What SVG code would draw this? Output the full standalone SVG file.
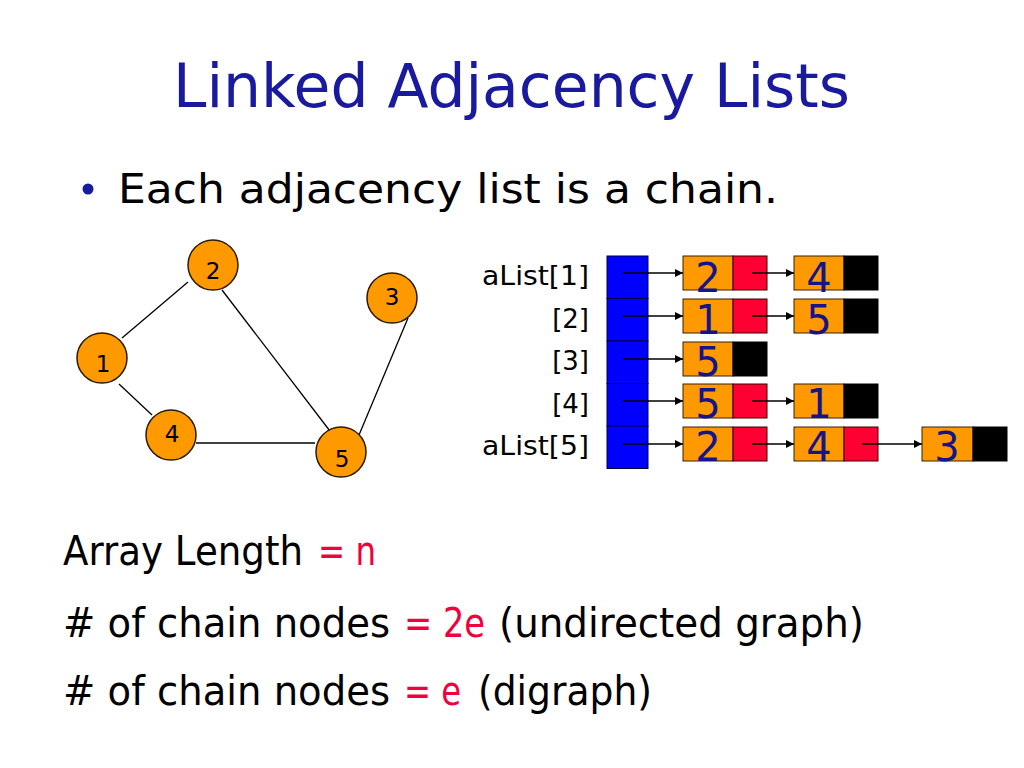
<svg xmlns="http://www.w3.org/2000/svg" width="1024" height="768" viewBox="0 0 1024 768">
<style>
.t{font-family:"DejaVu Sans","Liberation Sans",sans-serif;}
.title{fill:#1a1a9e;font-size:60px;}
.body{fill:#000;font-size:40px;}
.red{fill:#f0003c;}
.lbl{fill:#000;font-size:26px;text-anchor:end;}
.gn{fill:#ff9900;stroke:#2a1a00;stroke-width:1.5;}
.gl{fill:#000;font-size:23px;text-anchor:middle;}
.edge{stroke:#000;stroke-width:1.3;fill:none;}
.arr{stroke:#000;stroke-width:1.3;fill:none;marker-end:url(#ah);}
.cell{fill:#0000ff;stroke:#000044;stroke-width:1;}
.o{fill:#ff9900;stroke:#3a2000;stroke-width:1;}
.r{fill:#ff0033;stroke:#3a0000;stroke-width:1;}
.k{fill:#000;stroke:#000;stroke-width:1;}
.d{fill:#14148c;font-size:40px;text-anchor:middle;}
</style>
<defs>
<marker id="ah" viewBox="0 0 10 10" refX="10" refY="5" markerWidth="8" markerHeight="8" markerUnits="userSpaceOnUse" orient="auto">
<path d="M0,0 L10,5 L0,10 z" fill="#000"/>
</marker>
</defs>
<rect width="1024" height="768" fill="#fff"/>

<text class="t title" x="173" y="107" textLength="677" lengthAdjust="spacingAndGlyphs">Linked Adjacency Lists</text>

<circle cx="88" cy="189" r="5.5" fill="#1a1a9e"/>
<text class="t body" x="118" y="203" font-size="45" textLength="660" lengthAdjust="spacingAndGlyphs">Each adjacency list is a chain.</text>

<g id="graph-edges">
<line class="edge" x1="122" y1="338" x2="188" y2="282"/>
<line class="edge" x1="222" y1="290" x2="333" y2="435"/>
<line class="edge" x1="408" y1="318" x2="359" y2="435"/>
<line class="edge" x1="119" y1="384" x2="152" y2="415"/>
<line class="edge" x1="196" y1="443" x2="315" y2="443"/>
</g>
<g id="gnode1"><circle class="gn" cx="102" cy="358" r="25"/><text class="t gl" x="103" y="372">1</text></g>
<g id="gnode2"><circle class="gn" cx="213" cy="265" r="25"/><text class="t gl" x="213" y="279">2</text></g>
<g id="gnode3"><circle class="gn" cx="392" cy="298" r="25"/><text class="t gl" x="392" y="305">3</text></g>
<g id="gnode4"><circle class="gn" cx="171" cy="435" r="25"/><text class="t gl" x="172" y="442">4</text></g>
<g id="gnode5"><circle class="gn" cx="341" cy="452" r="25"/><text class="t gl" x="342" y="467">5</text></g>

<g id="labels">
<text class="t lbl" x="589" y="285" textLength="107" lengthAdjust="spacingAndGlyphs">aList[1]</text>
<text class="t lbl" x="589" y="327.5">[2]</text>
<text class="t lbl" x="589" y="370">[3]</text>
<text class="t lbl" x="589" y="412.5">[4]</text>
<text class="t lbl" x="589" y="455" textLength="107" lengthAdjust="spacingAndGlyphs">aList[5]</text>
</g>

<g id="array">
<rect class="cell" x="607" y="256" width="41" height="42.5"/>
<rect class="cell" x="607" y="298.5" width="41" height="42.5"/>
<rect class="cell" x="607" y="341" width="41" height="42.5"/>
<rect class="cell" x="607" y="383.5" width="41" height="42.5"/>
<rect class="cell" x="607" y="426" width="41" height="42.5"/>
</g>

<g id="row1">
<rect class="o" x="683" y="256" width="50" height="34"/><rect class="r" x="733" y="256" width="34" height="34"/>
<text class="t d" x="708" y="292">2</text>
<rect class="o" x="794" y="256" width="50" height="34"/><rect class="k" x="844" y="256" width="34" height="34"/>
<text class="t d" x="819" y="292">4</text>
</g>
<g id="row2">
<rect class="o" x="683" y="299" width="50" height="34"/><rect class="r" x="733" y="299" width="34" height="34"/>
<text class="t d" x="708" y="334">1</text>
<rect class="o" x="794" y="299" width="50" height="34"/><rect class="k" x="844" y="299" width="34" height="34"/>
<text class="t d" x="819" y="334">5</text>
</g>
<g id="row3">
<rect class="o" x="683" y="342" width="50" height="34"/><rect class="k" x="733" y="342" width="34" height="34"/>
<text class="t d" x="708" y="376">5</text>
</g>
<g id="row4">
<rect class="o" x="683" y="384" width="50" height="34"/><rect class="r" x="733" y="384" width="34" height="34"/>
<text class="t d" x="708" y="418">5</text>
<rect class="o" x="794" y="384" width="50" height="34"/><rect class="k" x="844" y="384" width="34" height="34"/>
<text class="t d" x="819" y="418">1</text>
</g>
<g id="row5">
<rect class="o" x="683" y="427" width="50" height="34"/><rect class="r" x="733" y="427" width="34" height="34"/>
<text class="t d" x="708" y="461">2</text>
<rect class="o" x="794" y="427" width="50" height="34"/><rect class="r" x="844" y="427" width="34" height="34"/>
<text class="t d" x="819" y="461">4</text>
<rect class="o" x="922" y="427" width="51" height="34"/><rect class="k" x="973" y="427" width="34" height="34"/>
<text class="t d" x="947" y="461">3</text>
</g>

<g id="connectors">
<line class="arr" x1="623" y1="273" x2="683" y2="273"/>
<line class="arr" x1="623" y1="316" x2="683" y2="316"/>
<line class="arr" x1="623" y1="359" x2="683" y2="359"/>
<line class="arr" x1="623" y1="401" x2="683" y2="401"/>
<line class="arr" x1="623" y1="444" x2="683" y2="444"/>
<line class="arr" x1="752" y1="273" x2="794" y2="273"/>
<line class="arr" x1="752" y1="316" x2="794" y2="316"/>
<line class="arr" x1="752" y1="401" x2="794" y2="401"/>
<line class="arr" x1="752" y1="444" x2="794" y2="444"/>
<line class="arr" x1="862" y1="444" x2="922" y2="444"/>
</g>

<g id="notes">
<text class="t body" x="63" y="565" textLength="240" lengthAdjust="spacingAndGlyphs">Array Length</text>
<text class="t body red" x="318" y="565" textLength="58" lengthAdjust="spacingAndGlyphs">= n</text>
<text class="t body" x="63" y="637" textLength="327" lengthAdjust="spacingAndGlyphs"># of chain nodes</text>
<text class="t body red" x="404" y="637" textLength="81" lengthAdjust="spacingAndGlyphs">= 2e</text>
<text class="t body" x="499" y="637" textLength="365" lengthAdjust="spacingAndGlyphs">(undirected graph)</text>
<text class="t body" x="63" y="705" textLength="327" lengthAdjust="spacingAndGlyphs"># of chain nodes</text>
<text class="t body red" x="404" y="705" textLength="57" lengthAdjust="spacingAndGlyphs">= e</text>
<text class="t body" x="478" y="705" textLength="174" lengthAdjust="spacingAndGlyphs">(digraph)</text>
</g>
</svg>
